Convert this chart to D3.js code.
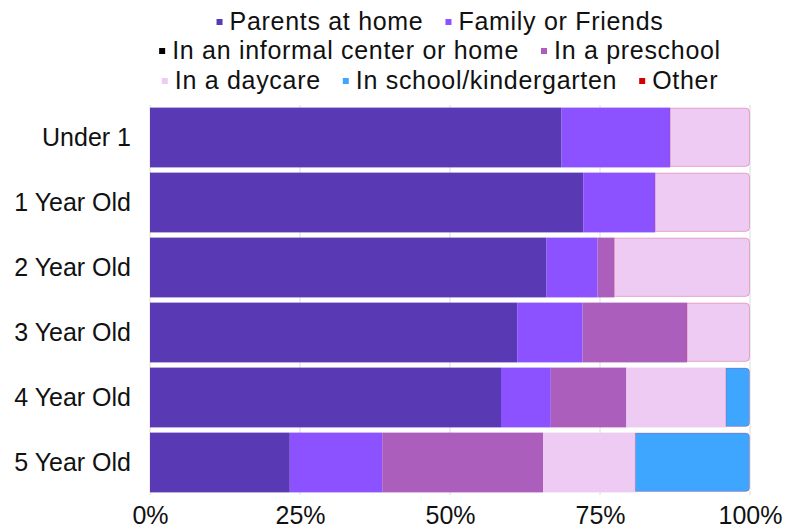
<!DOCTYPE html>
<html>
<head>
<meta charset="utf-8">
<script src="https://cdn.jsdelivr.net/npm/d3@7"></script>
<style>
  html, body { margin: 0; padding: 0; background: #fff; }
  svg { display: block; font-family: "Liberation Sans", Arial, sans-serif; }
</style>
</head>
<body>
<svg id="chart" width="787" height="529"></svg>
<script>
// Age groups (rows, top to bottom)
const categories = ["Under 1", "1 Year Old", "2 Year Old", "3 Year Old", "4 Year Old", "5 Year Old"];

// Care arrangement series
const seriesNames = [
  "Parents at home",
  "Family or Friends",
  "In an informal center or home",
  "In a preschool",
  "In a daycare",
  "In school/kindergarten",
  "Other"
];
const seriesColors = ["#5a3ab4", "#8c52ff", "#000000", "#ac5ebd", "#edcbf3", "#3ea6ff", "#d40000"];

// Share of children (%) per age group, one array per series
const parentsAtHome   = [68.6, 72.2, 66.1, 61.2, 58.5, 23.3];
const familyOrFriends = [18.1, 12.0,  8.5, 10.9,  8.3, 15.4];
const informalCenter  = [ 0.0,  0.0,  0.0,  0.0,  0.0,  0.0];
const preschool       = [ 0.0,  0.0,  2.8, 17.4, 12.6, 26.8];
const daycare         = [13.3, 15.8, 22.6, 10.5, 16.6, 15.4];
const school          = [ 0.0,  0.0,  0.0,  0.0,  4.0, 19.1];
const other           = [ 0.0,  0.0,  0.0,  0.0,  0.0,  0.0];

const tickValues = [0, 25, 50, 75, 100];
const tickLabels = ["0%", "25%", "50%", "75%", "100%"];

// Legend rows (indices into seriesNames)
const legendRows = [[0, 1], [2, 3], [4, 5, 6]];

const seriesValues = [parentsAtHome, familyOrFriends, informalCenter, preschool, daycare, school, other];
const table = categories.map((c, i) => {
  const row = { category: c };
  seriesNames.forEach((s, j) => { row[s] = seriesValues[j][i]; });
  return row;
});

const svg = d3.select("#chart");
const margin = { left: 150, right: 37, top: 105, bottom: 34 };
const W = 787, H = 529;
const fontSize = 25;
const fontFamily = "\"Liberation Sans\", Arial, sans-serif";

const x = d3.scaleLinear().domain([0, 100]).range([margin.left, W - margin.right]);
const y = d3.scaleBand().domain(categories)
  .range([margin.top, H - margin.bottom])
  .paddingInner(0.08).paddingOuter(0.04);

// Vertical gridlines
svg.append("g").selectAll("line")
  .data(tickValues)
  .join("line")
  .attr("x1", d => x(d)).attr("x2", d => x(d))
  .attr("y1", y.range()[0]).attr("y2", y.range()[1])
  .attr("stroke", "#dcdcdc").attr("stroke-width", 1);

// Stacked bars
const stack = d3.stack().keys(seriesNames);
const layers = stack(table);

// Last non-empty segment of each row gets rounded right corners
const lastKey = {};
table.forEach(r => {
  let k = null;
  seriesNames.forEach(s => { if (r[s] > 0) k = s; });
  lastKey[r.category] = k;
});

function roundedRight(x0, y0, w, h, r) {
  r = Math.min(r, w, h / 2);
  return `M${x0},${y0}H${x0 + w - r}Q${x0 + w},${y0} ${x0 + w},${y0 + r}` +
         `V${y0 + h - r}Q${x0 + w},${y0 + h} ${x0 + w - r},${y0 + h}H${x0}Z`;
}

const gBars = svg.append("g");
layers.forEach((layer, j) => {
  const key = layer.key;
  const g = gBars.append("g").attr("fill", seriesColors[j]);
  layer.forEach(seg => {
    const cat = seg.data.category;
    const x0 = x(seg[0]);
    const w = x(seg[1]) - x(seg[0]);
    if (w <= 0) return;
    if (lastKey[cat] === key) {
      g.append("path")
        .attr("d", roundedRight(x0, y(cat) + 0.5, w - 0.5, y.bandwidth() - 1.5, 4))
        .attr("stroke", "rgba(200,40,90,0.3)")
        .attr("stroke-width", 1);
    } else {
      g.append("rect")
        .attr("x", x0).attr("y", y(cat))
        .attr("width", w).attr("height", y.bandwidth());
    }
  });
});

// Category labels
const yAxis = d3.axisLeft(y).tickSize(0).tickPadding(19);
svg.append("g")
  .attr("transform", `translate(${margin.left},0)`)
  .call(yAxis)
  .call(g => g.select(".domain").remove())
  .call(g => g.selectAll("text")
    .attr("font-size", fontSize).attr("fill", "#111")
    .attr("font-family", fontFamily));

// Percentage axis
const xAxis = d3.axisBottom(x).tickValues(tickValues)
  .tickFormat((d, i) => tickLabels[i]).tickSize(0).tickPadding(11);
svg.append("g")
  .attr("transform", `translate(0,${H - margin.bottom})`)
  .call(xAxis)
  .call(g => g.select(".domain").remove())
  .call(g => g.selectAll("text")
    .attr("font-size", fontSize).attr("fill", "#111")
    .attr("font-family", fontFamily));

// Legend
const legend = svg.append("g");
const legendCenter = 440;
const rowBaselines = [30, 59, 89];
const markerSize = 6, markerGap = 7, itemGap = 22;
legendRows.forEach((row, ri) => {
  const gRow = legend.append("g");
  let cx = 0;
  row.forEach(si => {
    const item = gRow.append("g").attr("transform", `translate(${cx},0)`);
    item.append("rect")
      .attr("x", 0).attr("y", rowBaselines[ri] - 11)
      .attr("width", markerSize).attr("height", markerSize)
      .attr("fill", seriesColors[si]);
    const t = item.append("text")
      .attr("x", markerSize + markerGap).attr("y", rowBaselines[ri])
      .attr("font-size", fontSize).attr("font-family", fontFamily)
      .attr("letter-spacing", 0.7).attr("fill", "#111")
      .text(seriesNames[si]);
    cx += markerSize + markerGap + t.node().getComputedTextLength() + itemGap;
  });
  const total = cx - itemGap;
  gRow.attr("transform", `translate(${legendCenter - total / 2},0)`);
});
</script>
</body>
</html>
